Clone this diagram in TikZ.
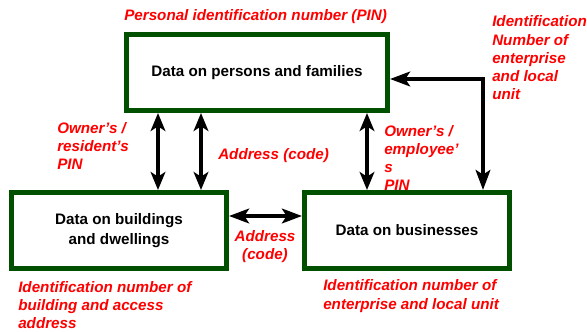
\documentclass[tikz,border=0pt]{standalone}
\usepackage{fontspec}
\setmainfont{Liberation Sans}
\usetikzlibrary{arrows.meta}
\definecolor{boxgreen}{RGB}{0,80,0}
\definecolor{labelred}{RGB}{255,0,0}

\begin{document}
\begin{tikzpicture}[x=0.75pt, y=-0.75pt,
    register/.style={draw=boxgreen, line width=3.75pt, fill=white, align=center,
        font=\fontsize{11.4}{15.5}\selectfont\bfseries},
    key/.style={anchor=west, inner sep=0pt, align=left, text=labelred,
        font=\fontsize{11.4}{13.7}\selectfont\bfseries\itshape},
    link/.style={line width=3pt, {Stealth[length=13.5pt, width=11pt, inset=3.5pt]}-{Stealth[length=13.5pt, width=11pt, inset=3.5pt]}},
    feed/.style={line width=3.4pt, {Stealth[length=15pt, width=11pt, inset=3.5pt]}-{Stealth[length=15pt, width=11pt, inset=3.5pt]}}]
    \useasboundingbox (0,0) rectangle (587,332);

    % the three registers
    \node[register, minimum width=195.75pt, minimum height=57pt] (persons) at (257,72.5)
        {Data on persons and families};
    \node[register, minimum width=161.25pt, minimum height=57pt] (buildings) at (119,230.5)
        {Data on buildings\\and dwellings};
    \node[register, minimum width=153.75pt, minimum height=57pt] (business) at (407,230.5)
        {Data on businesses};

    % links between registers
    \draw[link] (158,0 |- persons.south) -- (158,0 |- buildings.north);
    \draw[link] (201,0 |- persons.south) -- (201,0 |- buildings.north);
    \draw[link] (367,0 |- persons.south) -- (367,0 |- business.north);
    \draw[feed] (buildings.east |- 0,216) -- (business.west |- 0,216);
    \draw[feed, line join=miter] (business.north -| 483,0) |- (persons.east |- 0,79);

    % identifiers
    \node[key] (pin) at (124,17) {Personal identification number (PIN)};
    \node[key] (entid) at (492,58) {Identification\\Number of\\enterprise\\and local\\unit};
    \node[key] (respin) at (57,146) {Owner’s /\\resident’s\\PIN};
    \node[key] (addr) at (218,156) {Address (code)};
    \node[key] (emppin) at (384,158) {Owner’s /\\employee’\\s\\PIN};
    \node[key, anchor=center, align=center] (addr2) at (265,246.5) {Address\\(code)};
    \node[key] (bldid) at (18,305) {Identification number of\\building and access\\address};
    \node[key] (unitid) at (323,296) {Identification number of\\enterprise and local unit};
\end{tikzpicture}
\end{document}
